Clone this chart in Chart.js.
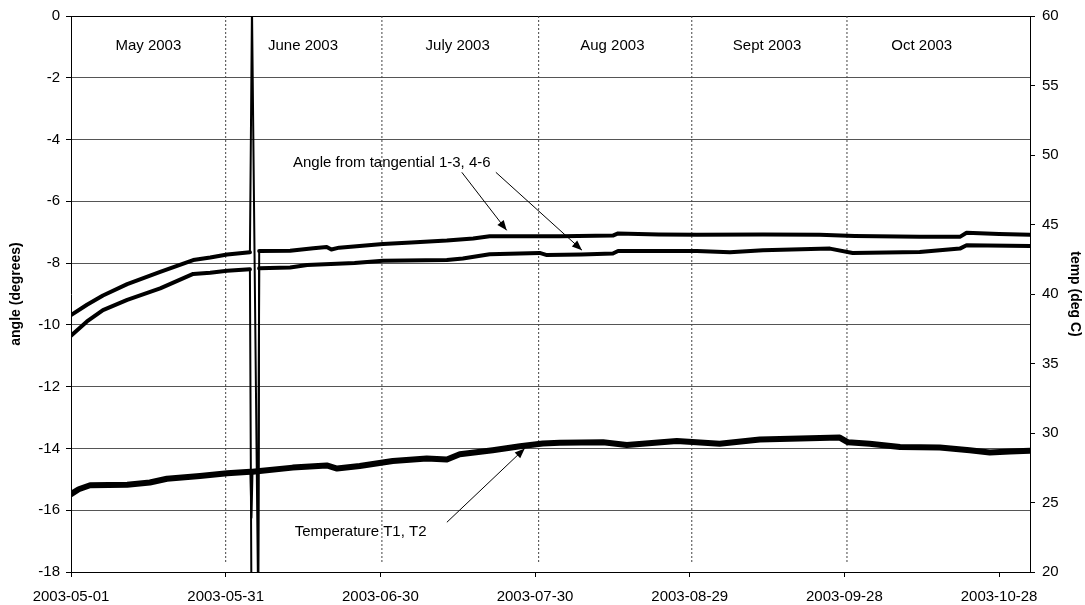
<!DOCTYPE html>
<html>
<head>
<meta charset="utf-8">
<script src="https://cdn.jsdelivr.net/npm/chart.js@4/dist/chart.umd.min.js"></script>
<style>
  html, body { margin: 0; padding: 0; background: #fff; }
  #wrap { width: 1085px; height: 605px; position: relative; }
</style>
</head>
<body>
<div id="wrap"><canvas id="angleChart"></canvas></div>
<script>
// x is days since 2003-05-01
const dateLabels = ["2003-05-01", "2003-05-31", "2003-06-30", "2003-07-30", "2003-08-29", "2003-09-28", "2003-10-28"];
const monthNames = ["May 2003", "June 2003", "July 2003", "Aug 2003", "Sept 2003", "Oct 2003"];
const monthMidDays = [15, 45, 75, 105, 135, 165];
const monthLineDays = [30, 60.3, 90.7, 120.4, 150.5];

// angle from tangential 1-3 (degrees)
const angle13Days = [0, 3.1, 6.2, 10.9, 17.3, 23.7, 27, 30.3, 34.7, 35.1, 36.3, 36.5, 42.5, 47, 49.6, 50.5, 52, 60.5, 66, 72.9, 78, 81.2, 89, 95, 105.1, 106.1, 114, 121.4, 134.2, 145.2, 152, 164.6, 172.4, 173.7, 180, 186];
const angle13Values = [-9.68, -9.35, -9.05, -8.68, -8.28, -7.9, -7.82, -7.72, -7.65, 0.3, -19, -7.61, -7.6, -7.52, -7.48, -7.56, -7.5, -7.38, -7.33, -7.27, -7.2, -7.13, -7.13, -7.13, -7.11, -7.04, -7.07, -7.08, -7.07, -7.08, -7.12, -7.15, -7.15, -7.02, -7.06, -7.08];

// angle from tangential 4-6 (degrees)
const angle46Days = [0, 3.1, 6.2, 10.9, 17.3, 23.7, 27, 30.3, 34.7, 35.0, 36.3, 36.5, 42.5, 45.8, 55, 60.5, 72.9, 76, 81.2, 90.9, 92.3, 99, 105.1, 106.1, 121.4, 127.8, 134.2, 147.2, 151.6, 164.6, 172.4, 173.7, 186];
const angle46Values = [-10.35, -9.89, -9.52, -9.19, -8.82, -8.35, -8.31, -8.25, -8.2, -19, -19, -8.17, -8.14, -8.06, -8.0, -7.92, -7.9, -7.85, -7.71, -7.67, -7.74, -7.72, -7.69, -7.61, -7.61, -7.65, -7.58, -7.53, -7.67, -7.64, -7.53, -7.42, -7.45];

// temperature T1, T2 (deg C)
const tempDays = [0, 1.5, 3.7, 10.9, 15.3, 18.6, 25, 30.3, 34.8, 35.0, 35.2, 36.6, 43, 49.6, 51.6, 56, 62.4, 69, 72.9, 75.4, 81.8, 87.1, 91.5, 94.8, 103.2, 107.8, 117.5, 125.8, 133.6, 141.4, 149.1, 150.7, 154.9, 160.8, 168.5, 174.3, 178.2, 182.1, 186];
const tempValues = [25.6, 25.95, 26.24, 26.27, 26.44, 26.71, 26.91, 27.11, 27.22, 23.9, 27.22, 27.27, 27.51, 27.67, 27.44, 27.62, 27.98, 28.16, 28.09, 28.47, 28.76, 29.04, 29.24, 29.29, 29.33, 29.13, 29.42, 29.22, 29.53, 29.6, 29.67, 29.33, 29.22, 29.0, 28.96, 28.76, 28.6, 28.67, 28.73];

const FONT = "'Liberation Sans', Arial, sans-serif";

const zip = (xs, ys) => xs.map((x, i) => ({ x, y: ys[i] }));

// callouts, in data units (day, angle)
const notes = [
  { text: "Angle from tangential 1-3, 4-6", x: 43.05, y: -4.77 },
  { text: "Temperature T1, T2", x: 43.4, y: -16.71 }
];
const arrows = [
  [75.8, -5.06, 84.5, -6.94],
  [82.4, -5.06, 99.1, -7.58],
  [72.9, -16.39, 88.0, -14.0]
];

const annotate = {
  id: "annotate",
  afterDatasetsDraw(chart) {
    const { ctx, scales } = chart;
    const xs = scales.x, ys = scales.y;
    ctx.save();
    ctx.fillStyle = "#000";
    ctx.strokeStyle = "#000";
    ctx.font = "15px " + FONT;
    ctx.textBaseline = "middle";

    ctx.textAlign = "center";
    monthNames.forEach((m, i) => {
      ctx.fillText(m, xs.getPixelForValue(monthMidDays[i]), ys.getPixelForValue(-0.97));
    });

    ctx.textAlign = "left";
    notes.forEach(n => ctx.fillText(n.text, xs.getPixelForValue(n.x), ys.getPixelForValue(n.y)));

    ctx.lineWidth = 1;
    arrows.forEach(a => {
      const x0 = xs.getPixelForValue(a[0]), y0 = ys.getPixelForValue(a[1]);
      const x1 = xs.getPixelForValue(a[2]), y1 = ys.getPixelForValue(a[3]);
      const ang = Math.atan2(y1 - y0, x1 - x0);
      ctx.beginPath();
      ctx.moveTo(x0, y0);
      ctx.lineTo(x1, y1);
      ctx.stroke();
      const len = 10, half = 4;
      ctx.beginPath();
      ctx.moveTo(x1, y1);
      ctx.lineTo(x1 - len * Math.cos(ang) + half * Math.sin(ang), y1 - len * Math.sin(ang) - half * Math.cos(ang));
      ctx.lineTo(x1 - len * Math.cos(ang) - half * Math.sin(ang), y1 - len * Math.sin(ang) + half * Math.cos(ang));
      ctx.closePath();
      ctx.fill();
    });
    ctx.restore();
  }
};

const spikeAngle = c => {
  const a = c.p0.parsed.y, b = c.p1.parsed.y;
  return (a < -17 || b < -17 || a > -1 || b > -1) ? 2 : 4;
};
const spikeTemp = c => (c.p0.parsed.y < 25 || c.p1.parsed.y < 25) ? 2 : 6;

const lineDefaults = {
  borderColor: "#000",
  pointRadius: 0,
  tension: 0,
  fill: false,
  clip: 0,
  borderJoinStyle: "round",
  borderCapStyle: "round"
};

const datasets = [
  { ...lineDefaults, label: "Angle 1-3", data: zip(angle13Days, angle13Values), yAxisID: "y", borderWidth: 4, segment: { borderWidth: spikeAngle }, order: 1 },
  { ...lineDefaults, label: "Angle 4-6", data: zip(angle46Days, angle46Values), yAxisID: "y", borderWidth: 4, segment: { borderWidth: spikeAngle }, order: 1 },
  { ...lineDefaults, label: "Temperature", data: zip(tempDays, tempValues), yAxisID: "y2", borderWidth: 6, segment: { borderWidth: spikeTemp }, order: 1 },
  ...monthLineDays.map(d => ({
    label: "sep",
    data: [{ x: d, y: 0 }, { x: d, y: -17.7 }],
    yAxisID: "y",
    borderColor: "#444",
    borderWidth: 1,
    borderDash: [2, 2],
    pointRadius: 0,
    order: 10
  }))
];

new Chart(document.getElementById("angleChart"), {
  type: "line",
  data: { datasets },
  plugins: [annotate],
  options: {
    responsive: true,
    maintainAspectRatio: false,
    animation: false,
    events: [],
    layout: { padding: { top: 15, left: 0, right: 0, bottom: 0 } },
    plugins: { legend: { display: false }, tooltip: { enabled: false } },
    scales: {
      x: {
        type: "linear",
        min: 0,
        max: 186,
        afterFit: s => { s.height = 33; },
        ticks: {
          stepSize: 30,
          includeBounds: false,
          autoSkip: false,
          maxRotation: 0,
          padding: 11,
          color: "#000",
          font: { family: FONT, size: 15 },
          callback: v => dateLabels[Math.round(v / 30)]
        },
        grid: { drawOnChartArea: false, tickLength: 5, color: "#000" },
        border: { color: "#000", width: 1 }
      },
      y: {
        position: "left",
        min: -18,
        max: 0,
        afterFit: s => { s.width = 71; },
        ticks: { stepSize: 2, padding: 6, color: "#000", font: { family: FONT, size: 15 } },
        grid: {
          color: c => (c.tick && c.tick.value === 0) ? "#000" : "#555",
          tickColor: "#000",
          tickLength: 5
        },
        border: { color: "#000", width: 1 },
        title: {
          display: true,
          text: "angle (degrees)",
          color: "#000",
          font: { family: FONT, size: 14, weight: "bold" },
          padding: { top: 8, bottom: 0 }
        }
      },
      y2: {
        position: "right",
        min: 20,
        max: 60,
        afterFit: s => { s.width = 55; },
        ticks: { stepSize: 5, padding: 7, color: "#000", font: { family: FONT, size: 15 } },
        grid: { drawOnChartArea: false, tickLength: 5, color: "#000" },
        border: { color: "#000", width: 1 },
        title: {
          display: true,
          text: "temp (deg C)",
          color: "#000",
          font: { family: FONT, size: 14, weight: "bold" },
          padding: { top: 2, bottom: 0 }
        }
      }
    }
  }
});
</script>
</body>
</html>
